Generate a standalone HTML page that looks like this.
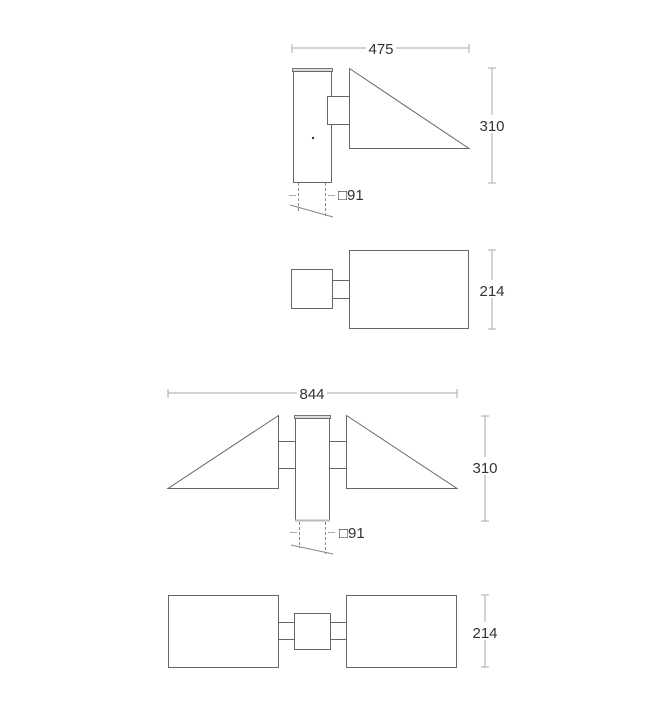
<!DOCTYPE html>
<html><head><meta charset="utf-8"><style>
html,body{margin:0;padding:0;background:#fff;}
svg{display:block;}
text{font-family:"Liberation Sans",sans-serif;font-size:15px;fill:#333;}
</style></head><body>
<svg width="650" height="707" viewBox="0 0 650 707" xmlns="http://www.w3.org/2000/svg">
<g fill="none" stroke="#666" stroke-width="1">
<!-- View 1 -->
<line x1="292" y1="48" x2="469" y2="48" stroke="#aaa"/>
<line x1="292" y1="44" x2="292" y2="53" stroke="#aaa"/>
<line x1="469" y1="44" x2="469" y2="53" stroke="#aaa"/>
<rect x="292.5" y="68.5" width="40" height="3" fill="#ddd" stroke="#777"/>
<rect x="293.5" y="71.5" width="38" height="111"/>
<rect x="327.5" y="96.5" width="22" height="28" fill="#fff"/>
<polygon points="349.5,68.5 349.5,148.5 469,148.5" fill="#fff"/>
<circle cx="313" cy="138" r="1.2" fill="#333" stroke="none"/>
<line x1="492" y1="68" x2="492" y2="183" stroke="#aaa"/>
<line x1="488" y1="68" x2="496" y2="68" stroke="#aaa"/>
<line x1="488" y1="183" x2="496" y2="183" stroke="#aaa"/>
<line x1="298.5" y1="183" x2="298.5" y2="211" stroke-dasharray="3,2" stroke="#888"/>
<line x1="325.5" y1="183" x2="325.5" y2="218" stroke-dasharray="3,2" stroke="#888"/>
<line x1="289" y1="195.5" x2="296" y2="195.5" stroke="#aaa"/>
<line x1="328" y1="195.5" x2="335" y2="195.5" stroke="#aaa"/>
<line x1="290" y1="205" x2="333" y2="217" stroke="#888"/>
<!-- View 2 -->
<rect x="291.5" y="269.5" width="41" height="39"/>
<line x1="333" y1="280.5" x2="349" y2="280.5"/>
<line x1="333" y1="298.5" x2="349" y2="298.5"/>
<rect x="349.5" y="250.5" width="119" height="78"/>
<line x1="492" y1="250" x2="492" y2="329" stroke="#aaa"/>
<line x1="488" y1="250" x2="496" y2="250" stroke="#aaa"/>
<line x1="488" y1="329" x2="496" y2="329" stroke="#aaa"/>
<!-- View 3 -->
<line x1="168" y1="393" x2="457" y2="393" stroke="#aaa"/>
<line x1="168" y1="389" x2="168" y2="398" stroke="#aaa"/>
<line x1="457" y1="389" x2="457" y2="398" stroke="#aaa"/>
<polygon points="278.5,415.5 278.5,488.5 168,488.5"/>
<polygon points="346.5,415.5 346.5,488.5 457,488.5"/>
<line x1="279" y1="441.5" x2="295" y2="441.5"/>
<line x1="279" y1="468.5" x2="295" y2="468.5"/>
<line x1="329" y1="441.5" x2="346" y2="441.5"/>
<line x1="329" y1="468.5" x2="346" y2="468.5"/>
<rect x="294.5" y="415.5" width="36" height="3" fill="#ddd" stroke="#777"/>
<rect x="295.5" y="418.5" width="34" height="102"/>
<line x1="295" y1="520.5" x2="330" y2="520.5" stroke="#bbb" stroke-width="2"/>
<line x1="485" y1="416" x2="485" y2="521" stroke="#aaa"/>
<line x1="481" y1="416" x2="489" y2="416" stroke="#aaa"/>
<line x1="481" y1="521" x2="489" y2="521" stroke="#aaa"/>
<line x1="299.5" y1="522" x2="299.5" y2="548" stroke-dasharray="3,2" stroke="#888"/>
<line x1="325.5" y1="522" x2="325.5" y2="554" stroke-dasharray="3,2" stroke="#888"/>
<line x1="290" y1="532.5" x2="297" y2="532.5" stroke="#aaa"/>
<line x1="328" y1="532.5" x2="335" y2="532.5" stroke="#aaa"/>
<line x1="291" y1="545" x2="333" y2="554" stroke="#888"/>
<!-- View 4 -->
<rect x="168.5" y="595.5" width="110" height="72"/>
<rect x="346.5" y="595.5" width="110" height="72"/>
<rect x="294.5" y="613.5" width="36" height="36"/>
<line x1="279" y1="622.5" x2="294" y2="622.5"/>
<line x1="279" y1="639.5" x2="294" y2="639.5"/>
<line x1="331" y1="622.5" x2="346" y2="622.5"/>
<line x1="331" y1="639.5" x2="346" y2="639.5"/>
<line x1="485" y1="595" x2="485" y2="667" stroke="#aaa"/>
<line x1="481" y1="595" x2="489" y2="595" stroke="#aaa"/>
<line x1="481" y1="667" x2="489" y2="667" stroke="#aaa"/>
</g>
<g>
<rect x="366" y="40" width="30" height="16" fill="#fff"/>
<text x="381" y="54" text-anchor="middle">475</text>
<rect x="478" y="115" width="30" height="18" fill="#fff"/>
<text x="492" y="131" text-anchor="middle">310</text>
<text x="338" y="200">□91</text>
<rect x="478" y="280" width="30" height="18" fill="#fff"/>
<text x="492" y="296" text-anchor="middle">214</text>
<rect x="297" y="385" width="30" height="16" fill="#fff"/>
<text x="312" y="399" text-anchor="middle">844</text>
<rect x="470" y="457" width="30" height="18" fill="#fff"/>
<text x="485" y="473" text-anchor="middle">310</text>
<text x="339" y="538">□91</text>
<rect x="470" y="622" width="30" height="18" fill="#fff"/>
<text x="485" y="638" text-anchor="middle">214</text>
</g>
</svg>
</body></html>
